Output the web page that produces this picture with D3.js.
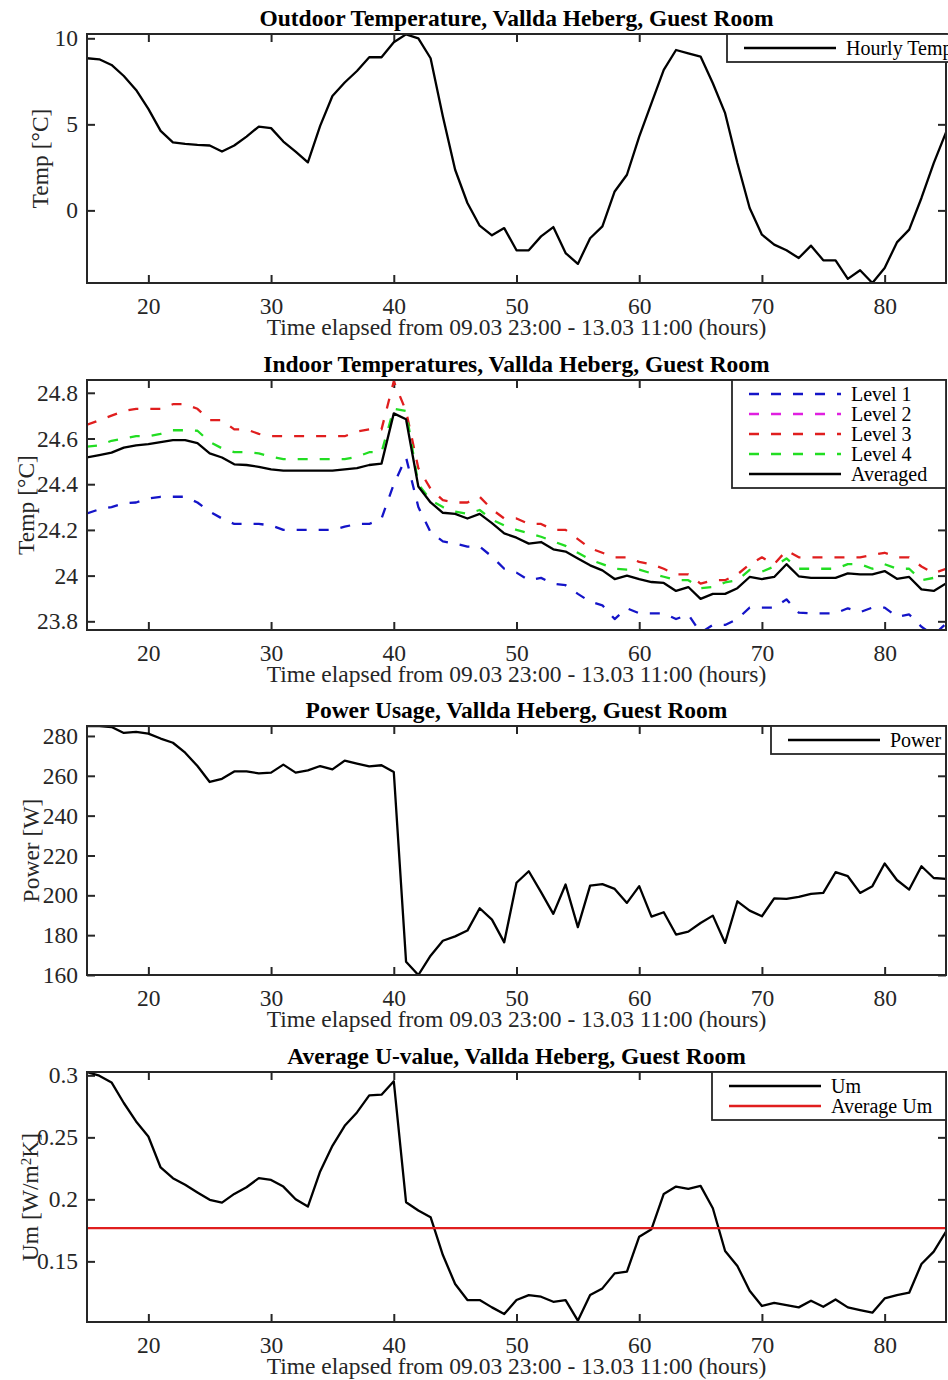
<!DOCTYPE html>
<html>
<head>
<meta charset="utf-8">
<script src="https://cdn.jsdelivr.net/npm/d3@7"></script>
<style>
  body { margin: 0; background: #fff; }
  svg text { font-family: "Liberation Serif", "Times New Roman", serif; }
</style>
</head>
<body>
<svg id="chart"></svg>
<script>
// hours elapsed (x values)
var hours = [15, 16, 17, 18, 19, 20, 21, 22, 23, 24, 25, 26, 27, 28, 29, 30, 31, 32, 33, 34,
  35, 36, 37, 38, 39, 40, 41, 42, 43, 44, 45, 46, 47, 48, 49, 50, 51, 52, 53, 54,
  55, 56, 57, 58, 59, 60, 61, 62, 63, 64, 65, 66, 67, 68, 69, 70, 71, 72, 73, 74,
  75, 76, 77, 78, 79, 80, 81, 82, 83, 84, 85];

var outdoorTemp = [8.84, 8.78, 8.45, 7.81, 7.0, 5.9, 4.62, 3.95, 3.87, 3.81,
  3.77, 3.42, 3.77, 4.29, 4.87, 4.78, 4.0, 3.42, 2.79, 4.91,
  6.65, 7.43, 8.1, 8.9, 8.9, 9.77, 10.23, 10.0, 8.84, 5.45,
  2.36, 0.43, -0.89, -1.45, -1.03, -2.32, -2.32, -1.51, -0.97, -2.48,
  -3.11, -1.62, -0.93, 1.1, 2.07, 4.29, 6.23, 8.16, 9.32, 9.13,
  8.94, 7.39, 5.65, 2.75, 0.14, -1.41, -1.99, -2.32, -2.77, -2.05,
  -2.9, -2.9, -3.98, -3.48, -4.22, -3.35, -1.86, -1.12, 0.72, 2.75, 4.53];

var level1 = [24.272, 24.29, 24.30, 24.316, 24.32, 24.337, 24.345, 24.345, 24.345, 24.32,
  24.28, 24.25, 24.226, 24.226, 24.226, 24.22, 24.2, 24.2, 24.2, 24.2,
  24.2, 24.214, 24.226, 24.226, 24.25, 24.40, 24.517, 24.30, 24.19, 24.15,
  24.14, 24.127, 24.127, 24.083, 24.03, 24.013, 23.98, 23.99, 23.965, 23.958,
  23.92, 23.886, 23.87, 23.81, 23.857, 23.835, 23.835, 23.835, 23.81, 23.83,
  23.75, 23.784, 23.784, 23.81, 23.86, 23.86, 23.86, 23.896, 23.838, 23.835,
  23.835, 23.835, 23.857, 23.84, 23.86, 23.86, 23.82, 23.83, 23.776, 23.74, 23.79];

var level2 = []; // in the legend, but no visible line in the figure

var level3 = [24.66, 24.68, 24.70, 24.72, 24.73, 24.73, 24.73, 24.75, 24.75, 24.73,
  24.68, 24.68, 24.64, 24.64, 24.62, 24.61, 24.61, 24.61, 24.61, 24.61,
  24.61, 24.61, 24.63, 24.64, 24.64, 24.85, 24.72, 24.47, 24.38, 24.33,
  24.32, 24.32, 24.345, 24.29, 24.25, 24.25, 24.226, 24.226, 24.2, 24.2,
  24.16, 24.12, 24.10, 24.08, 24.08, 24.06, 24.05, 24.03, 24.005, 24.005,
  23.965, 23.98, 23.98, 24.005, 24.05, 24.08, 24.05, 24.11, 24.08, 24.08,
  24.08, 24.08, 24.08, 24.08, 24.09, 24.10, 24.08, 24.08, 24.04, 24.01, 24.03];

var level4 = [24.564, 24.57, 24.59, 24.60, 24.61, 24.61, 24.62, 24.636, 24.636, 24.634,
  24.585, 24.557, 24.54, 24.54, 24.535, 24.52, 24.51, 24.51, 24.51, 24.51,
  24.51, 24.51, 24.52, 24.54, 24.54, 24.73, 24.72, 24.40, 24.33, 24.30,
  24.28, 24.27, 24.287, 24.245, 24.22, 24.20, 24.185, 24.17, 24.15, 24.13,
  24.10, 24.07, 24.05, 24.03, 24.026, 24.026, 24.01, 23.995, 23.98, 23.98,
  23.945, 23.95, 23.97, 23.98, 24.025, 24.017, 24.04, 24.075, 24.03, 24.03,
  24.03, 24.03, 24.05, 24.05, 24.03, 24.05, 24.03, 24.03, 23.98, 23.99, 24.0];

var averaged = [24.517, 24.527, 24.538, 24.56, 24.57, 24.575, 24.584, 24.593, 24.593, 24.58,
  24.535, 24.517, 24.487, 24.484, 24.476, 24.465, 24.459, 24.459, 24.459, 24.459,
  24.459, 24.465, 24.47, 24.484, 24.49, 24.71, 24.684, 24.39, 24.32, 24.275,
  24.27, 24.25, 24.27, 24.23, 24.185, 24.166, 24.14, 24.147, 24.115, 24.105,
  24.075, 24.045, 24.023, 23.985, 24.0, 23.985, 23.972, 23.968, 23.933, 23.95,
  23.898, 23.92, 23.92, 23.945, 23.994, 23.985, 23.994, 24.05, 23.997, 23.99,
  23.99, 23.99, 24.01, 24.005, 24.005, 24.02, 23.986, 23.994, 23.94, 23.933, 23.966];

var power = [285, 284.9, 284.5, 281.5, 282, 281.2, 278.7, 276.6, 271.6, 264.9,
  256.9, 258.5, 262.2, 262.2, 261.2, 261.6, 265.6, 261.6, 262.7, 264.9,
  263.2, 267.6, 266.1, 264.7, 265.3, 261.9, 166.7, 160, 169.7, 177.2,
  179.4, 182.3, 193.5, 187.8, 176.4, 206.3, 212.1, 201.6, 190.7, 205.4,
  184, 204.9, 205.6, 203.2, 196.2, 204.6, 189.3, 191.5, 180.3, 181.8,
  186.1, 189.8, 176.1, 197, 192.3, 189.5, 198.5, 198.2, 199.2, 200.7,
  201.2, 211.6, 209.6, 201.2, 204.6, 216, 207.7, 202.9, 214.6, 208.7, 208.3];

var um = [0.3027, 0.2997, 0.2943, 0.2777, 0.2628, 0.2507, 0.2257, 0.2171, 0.2117, 0.2055,
  0.1996, 0.1974, 0.2044, 0.2098, 0.2171, 0.2157, 0.2103, 0.2001, 0.1942, 0.2225,
  0.2432, 0.2593, 0.2701, 0.2838, 0.2844, 0.2952, 0.1977, 0.1910, 0.1856, 0.1551,
  0.1317, 0.1188, 0.1188, 0.1129, 0.1075, 0.1188, 0.1228, 0.1215, 0.1174, 0.1188,
  0.1022, 0.1228, 0.1282, 0.1403, 0.1417, 0.1699, 0.1759, 0.2044, 0.2103, 0.2085,
  0.2109, 0.1928, 0.1584, 0.1463, 0.1263, 0.1140, 0.1166, 0.1148, 0.1129, 0.1183,
  0.1134, 0.1193, 0.1129, 0.1107, 0.1086, 0.1201, 0.1228, 0.1247, 0.1479, 0.1578, 0.1740];

var averageUm = 0.1768;

var xTicks = [20, 30, 40, 50, 60, 70, 80];
var outdoorTicks = [0, 5, 10];
var indoorTicks = [23.8, 24, 24.2, 24.4, 24.6, 24.8];
var powerTicks = [160, 180, 200, 220, 240, 260, 280];
var umTicks = [0.15, 0.2, 0.25, 0.3];

var xLabel = "Time elapsed from 09.03 23:00 - 13.03 11:00 (hours)";

var axisColor = "#262626";
var serif = '"Liberation Serif", "Times New Roman", serif';
var bigFont = "23.5px";
var dashes = "10,12";
var svg = d3.select("#chart").attr("width", 948).attr("height", 1380);
var defs = svg.append("defs");

var margin = { left: 87, right: 2 };
var plotWidth = 948 - margin.left - margin.right;
var x = d3.scaleLinear().domain([15, 85]).range([0, plotWidth]);

function drawPanel(p) {
  var height = p.bottom - p.top;
  var y = d3.scaleLinear().domain(p.yDomain).range([height, 0]);
  var g = svg.append("g").attr("transform", "translate(" + margin.left + "," + p.top + ")");

  defs.append("clipPath").attr("id", "clip" + p.id)
    .append("rect").attr("width", plotWidth).attr("height", height);

  // axes, ticks pointing inward on all four sides
  var fmt = d3.format("~g");
  g.append("g").attr("class", "axis").attr("transform", `translate(0,${height})`)
    .call(d3.axisBottom(x).tickValues(xTicks).tickSize(-8).tickSizeOuter(0).tickPadding(14).tickFormat(fmt));
  g.append("g").attr("class", "axis")
    .call(d3.axisTop(x).tickValues(xTicks).tickSize(-8).tickSizeOuter(0).tickFormat(""));
  g.append("g").attr("class", "axis")
    .call(d3.axisLeft(y).tickValues(p.yTicks).tickSize(-8).tickSizeOuter(0).tickPadding(9).tickFormat(fmt));
  g.append("g").attr("class", "axis").attr("transform", `translate(${plotWidth},0)`)
    .call(d3.axisRight(y).tickValues(p.yTicks).tickSize(-8).tickSizeOuter(0).tickFormat(""));
  g.selectAll(".axis").attr("font-family", serif).attr("font-size", null);
  g.selectAll(".axis .domain").remove();
  g.selectAll(".axis line").attr("stroke", axisColor).attr("stroke-width", 2);
  g.selectAll(".axis text").attr("fill", axisColor)
    .style("font-family", serif).style("font-size", bigFont);

  // data lines
  var line = d3.line().x((d, i) => x(hours[i])).y((d) => y(d));
  var lines = g.append("g").attr("clip-path", "url(#clip" + p.id + ")");
  p.series.forEach((s) => {
    if (!s.values.length) return;
    lines.append("path")
      .attr("d", line(s.values))
      .attr("fill", "none")
      .attr("stroke", s.color)
      .attr("stroke-width", 2.3)
      .attr("stroke-dasharray", s.dash ? dashes : null)
      .attr("stroke-linejoin", "round");
  });
  if (p.hline !== undefined) {
    lines.append("line")
      .attr("x1", x(hours[0])).attr("x2", x(hours[hours.length - 1]))
      .attr("y1", y(p.hline.value)).attr("y2", y(p.hline.value))
      .attr("stroke", p.hline.color).attr("stroke-width", 2.3);
  }

  // box
  g.append("rect").attr("width", plotWidth).attr("height", height)
    .attr("fill", "none").attr("stroke", axisColor).attr("stroke-width", 2);

  // title and labels
  g.append("text").attr("x", plotWidth / 2).attr("y", -8)
    .attr("text-anchor", "middle").style("font-size", bigFont).style("font-weight", "bold")
    .attr("fill", "#000").text(p.title);
  g.append("text").attr("x", plotWidth / 2).attr("y", height + 52)
    .attr("text-anchor", "middle").style("font-size", bigFont).attr("fill", axisColor).text(xLabel);
  var yl = svg.append("text")
    .attr("transform", `translate(${p.ylabelX},${p.top + height / 2}) rotate(-90)`)
    .attr("text-anchor", "middle").style("font-size", bigFont).attr("fill", axisColor);
  p.ylabel.forEach((part) => {
    var t = yl.append("tspan").text(part.text);
    if (part.sup) t.attr("dy", "-0.45em").style("font-size", "15px");
    if (part.after) t.attr("dy", "0.3em");
  });

  // legend
  var rows = p.legend.length;
  var lg = svg.append("g");
  lg.append("rect")
    .attr("x", p.legendX).attr("y", p.top)
    .attr("width", p.legendRight - p.legendX).attr("height", 28 + (rows - 1) * 20)
    .attr("fill", "#fff").attr("stroke", axisColor).attr("stroke-width", 1.8);
  p.legend.forEach((s, i) => {
    var cy = p.top + 14 + i * 20;
    lg.append("line")
      .attr("x1", p.legendX + 17).attr("x2", p.legendX + 109)
      .attr("y1", cy).attr("y2", cy)
      .attr("stroke", s.color).attr("stroke-width", 2.3)
      .attr("stroke-dasharray", s.dash ? dashes : null);
    lg.append("text").attr("x", p.legendX + 119).attr("y", cy).attr("dy", "0.33em")
      .style("font-size", "20px").attr("fill", "#000").text(s.label);
  });
}

var s1 = { label: "Level 1", values: level1, color: "#1414c8", dash: true };
var s2 = { label: "Level 2", values: level2, color: "#e020e0", dash: true };
var s3 = { label: "Level 3", values: level3, color: "#e01e1e", dash: true };
var s4 = { label: "Level 4", values: level4, color: "#22dd22", dash: true };
var s5 = { label: "Averaged", values: averaged, color: "#000000", dash: false };

drawPanel({
  id: 1, top: 34, bottom: 283, yDomain: [-4.22, 10.25], yTicks: outdoorTicks,
  title: "Outdoor Temperature, Vallda Heberg, Guest Room",
  ylabel: [{ text: "Temp [°C]" }], ylabelX: 48,
  series: [{ label: "Hourly Temp", values: outdoorTemp, color: "#000" }],
  legend: [{ label: "Hourly Temp", color: "#000" }],
  legendX: 727, legendRight: 958,
});

drawPanel({
  id: 2, top: 380, bottom: 630, yDomain: [23.762, 24.856], yTicks: indoorTicks,
  title: "Indoor Temperatures, Vallda Heberg, Guest Room",
  ylabel: [{ text: "Temp [°C]" }], ylabelX: 34,
  series: [s1, s2, s3, s4, s5],
  legend: [s1, s2, s3, s4, s5],
  legendX: 732, legendRight: 946,
});

drawPanel({
  id: 3, top: 726, bottom: 975, yDomain: [160, 285], yTicks: powerTicks,
  title: "Power Usage, Vallda Heberg, Guest Room",
  ylabel: [{ text: "Power [W]" }], ylabelX: 39,
  series: [{ values: power, color: "#000" }],
  legend: [{ label: "Power", color: "#000" }],
  legendX: 771, legendRight: 946,
});

drawPanel({
  id: 4, top: 1072, bottom: 1322, yDomain: [0.1011, 0.3027], yTicks: umTicks,
  title: "Average U-value, Vallda Heberg, Guest Room",
  ylabel: [{ text: "Um [W/m" }, { text: "2", sup: true }, { text: "K]", after: true }], ylabelX: 38,
  series: [{ values: um, color: "#000" }],
  hline: { value: averageUm, color: "#e01e1e" },
  legend: [{ label: "Um", color: "#000" }, { label: "Average Um", color: "#e01e1e" }],
  legendX: 712, legendRight: 946,
});
</script>
</body>
</html>
